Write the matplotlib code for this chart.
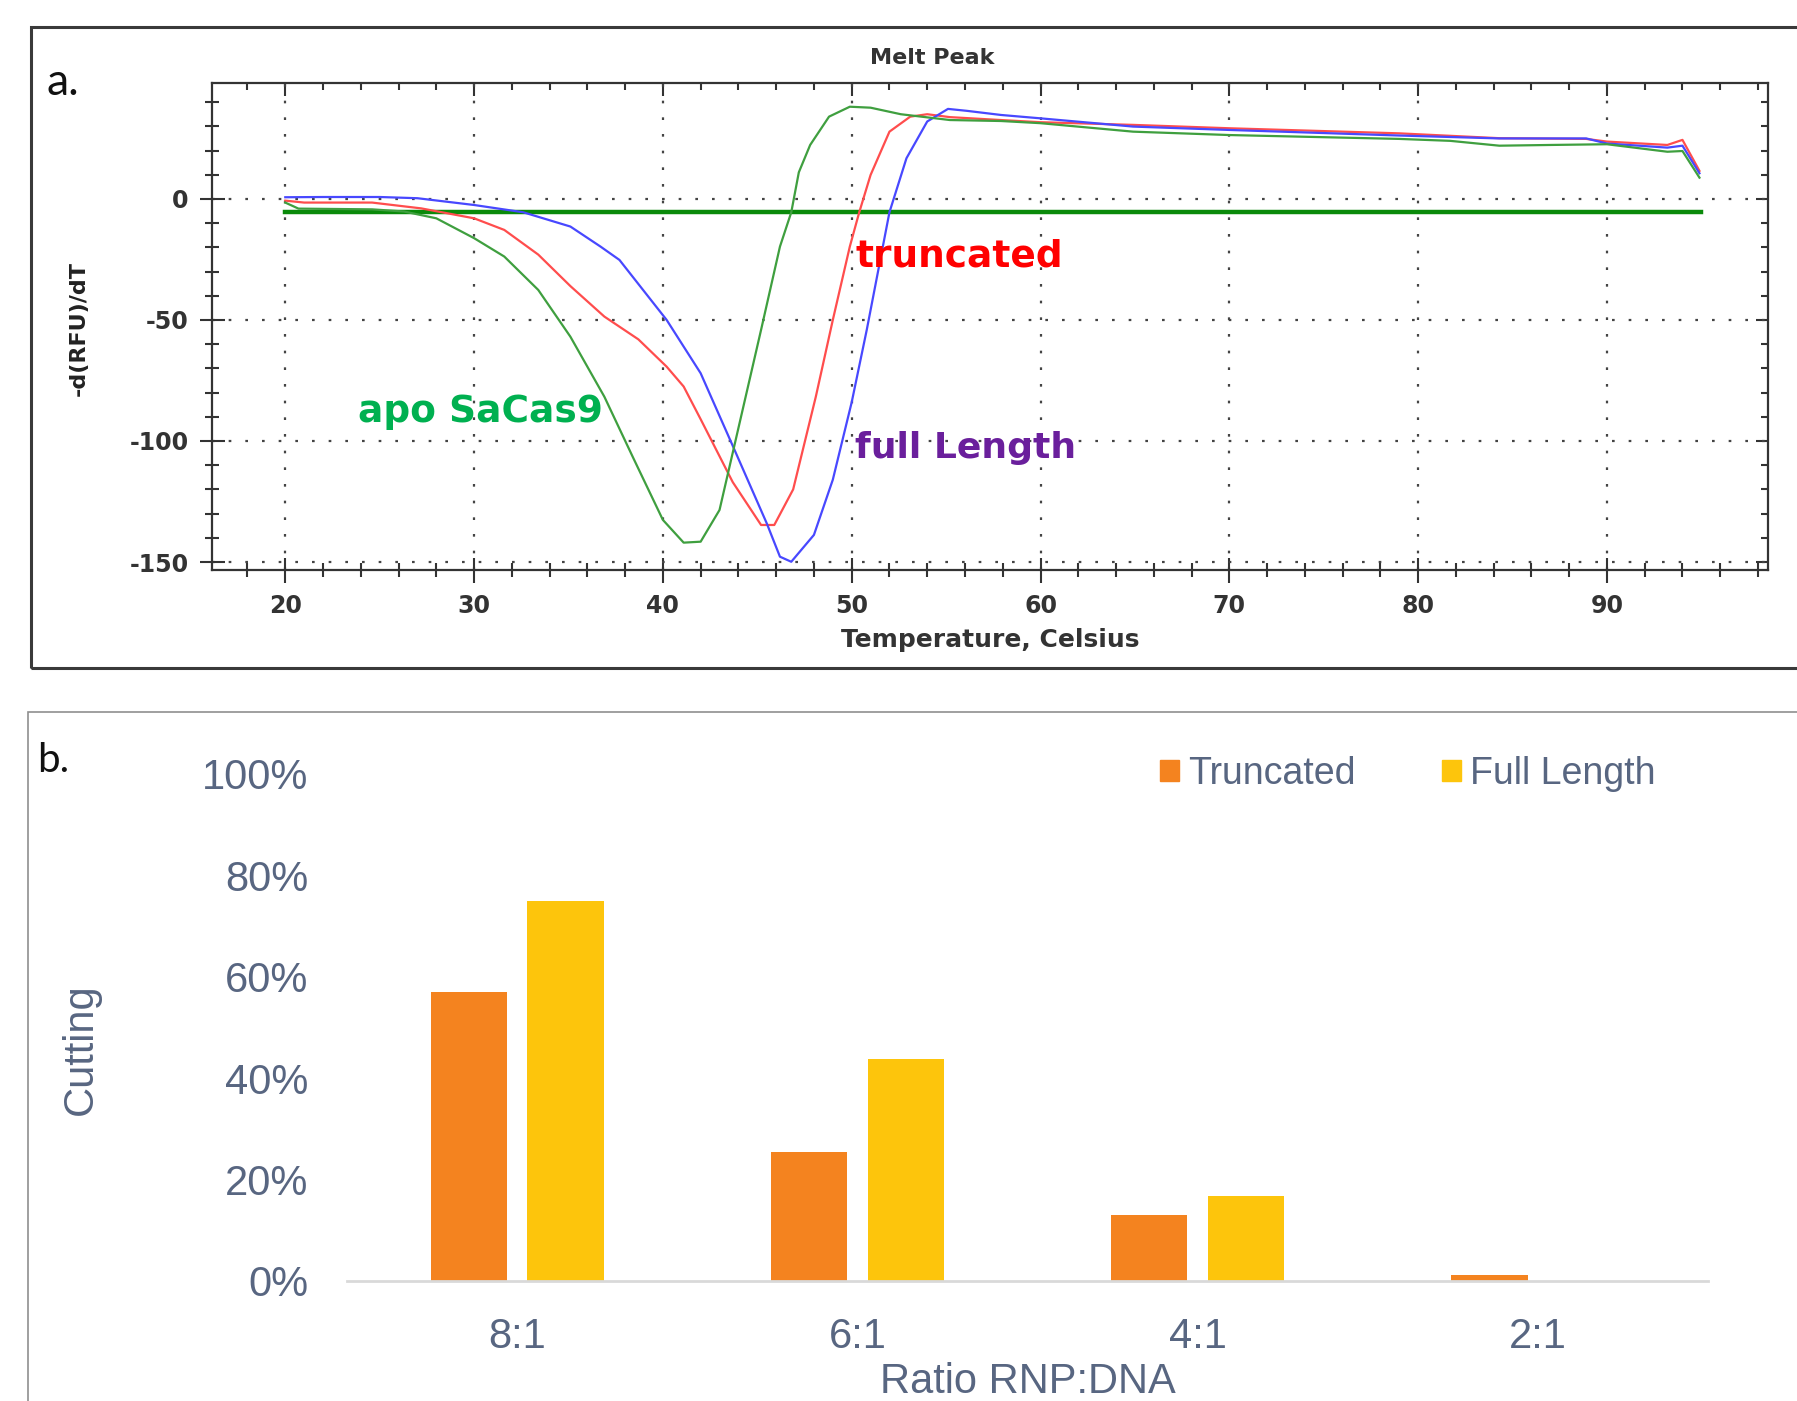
import matplotlib
matplotlib.use("Agg")
import numpy as np
import matplotlib.pyplot as plt
from matplotlib.ticker import MultipleLocator, PercentFormatter
from matplotlib.patches import Rectangle, Patch

plt.rcParams["axes.unicode_minus"] = False

# --- panel a: melt peak curves (temperature, -d(RFU)/dT) ---
temp_full = [20, 22, 25, 27, 30, 32.6, 35.1, 36.7, 37.7, 40.2, 42.0, 43.7, 45.5, 46.2, 46.8,
             48.0, 49.0, 50.0, 50.8, 52.0, 52.9, 54.0, 55.1, 56.1, 57.9, 60, 64.9, 70, 79,
             84.3, 88.9, 90, 93.2, 94.0, 94.9]
val_full = [0.7, 0.8, 0.8, 0.3, -2.5, -5.5, -11.4, -19.7, -25.2, -50, -72, -102, -134, -147.8, -149.9,
            -138.8, -116, -84, -54, -5.5, 16.8, 32, 37.2, 36.4, 34.7, 33.3, 29.9, 28.5, 26.2,
            25, 25, 22.9, 21.2, 22, 10.6]

temp_trunc = [20, 21, 24.6, 27.2, 30, 31.6, 33.4, 35.1, 36.9, 38.7, 40.2, 41.1, 42.0, 43.7, 45.2,
              45.9, 46.9, 48.1, 49.0, 49.9, 50.4, 51.0, 52.0, 53.1, 54.0, 55.2, 57.9, 60, 64.9,
              70, 79, 84.3, 88.9, 90, 93.2, 94.0, 94.9]
val_trunc = [-0.7, -1.5, -1.5, -3.9, -8, -12.8, -23, -36, -48.6, -58, -69.3, -77.5, -91, -117, -134.7,
             -134.7, -120, -81.7, -50, -19.7, -5.5, 9.9, 27.8, 34, 35, 33.8, 32.6, 31.7, 30.6,
             29.2, 27.1, 25.1, 24.8, 23.7, 22.3, 24.4, 11.6]

temp_apo = [20, 20.7, 24.6, 26.3, 28, 30, 31.6, 33.4, 35.1, 36.9, 38.4, 40.0, 41.1, 42.0, 43.0,
            44.1, 45.2, 46.2, 46.8, 47.2, 47.8, 48.8, 49.9, 51.0, 52.6, 55.2, 57.9, 60, 64.9,
            70, 79, 81.7, 84.3, 87, 90, 93.2, 94.0, 94.9]
val_apo = [-1.5, -4, -4.3, -5.2, -8, -16.2, -23.8, -37.6, -56.9, -81.7, -106.5, -132.6, -142, -141.6, -128.5,
           -91.3, -54.1, -19.7, -5.5, 11, 22.3, 34, 38.1, 37.7, 35, 32.6, 32.2, 31.3, 27.8,
           26.4, 24.8, 24, 22, 22.3, 22.6, 19.5, 19.8, 8.8]

threshold_temp = [20, 95]
threshold_val = [-5.5, -5.5]

# --- panel b: cutting vs ratio ---
ratios = ["8:1", "6:1", "4:1", "2:1"]
cut_truncated = [0.57, 0.254, 0.13, 0.012]
cut_full = [0.75, 0.438, 0.167, 0.0]

W, H = 1797, 1401
fig = plt.figure(figsize=(W / 100, H / 100), dpi=100)


def fx(px):
    return px / W


def fy(py):
    return 1 - py / H


# panel frames
fig.patches.append(Rectangle((fx(31), fy(668)), 1.2, fy(27) - fy(668), transform=fig.transFigure,
                             fill=False, edgecolor="#3a3a3a", linewidth=2.2, zorder=0))
fig.patches.append(Rectangle((fx(28), fy(1500)), 1.2, fy(712) - fy(1500), transform=fig.transFigure,
                             fill=False, edgecolor="#8f8f8f", linewidth=1.2, zorder=0))

# ---------------- panel a ----------------
ax = fig.add_axes([fx(212), fy(570), fx(1768) - fx(212), fy(83) - fy(570)])
ax.plot(temp_trunc, val_trunc, color="#ff4d4d", lw=1.6, zorder=3)
ax.plot(temp_full, val_full, color="#4848ff", lw=1.6, zorder=3)
ax.plot(temp_apo, val_apo, color="#3f9f3f", lw=1.6, zorder=3)
ax.plot(threshold_temp, threshold_val, color="#0a8a0a", lw=3.2, zorder=2)

ax.set_xlim(16.12, 98.53)
ax.set_ylim(-153.3, 47.9)
ax.xaxis.set_major_locator(MultipleLocator(10))
ax.xaxis.set_minor_locator(MultipleLocator(2))
ax.yaxis.set_major_locator(MultipleLocator(50))
ax.yaxis.set_minor_locator(MultipleLocator(10))
ax.grid(which="major", color="#444444", linestyle=(0, (1.2, 6.3)), linewidth=1.6)
ax.tick_params(which="major", direction="inout", length=18, width=1.5, color="#333333",
               labelsize=17, labelcolor="#333333", pad=8)
ax.tick_params(which="minor", direction="inout", length=10, width=1.5, color="#333333")
for lab in ax.get_xticklabels() + ax.get_yticklabels():
    lab.set_fontweight("bold")
for s in ax.spines.values():
    s.set_color("#333333")
    s.set_linewidth(1.6)

secx = ax.secondary_xaxis("top")
secx.xaxis.set_major_locator(MultipleLocator(10))
secx.xaxis.set_minor_locator(MultipleLocator(2))
secx.tick_params(which="major", direction="in", length=9, width=1.5, color="#333333", labeltop=False)
secx.tick_params(which="minor", direction="in", length=5, width=1.5, color="#333333")
secx.spines["top"].set_visible(False)
secy = ax.secondary_yaxis("right")
secy.yaxis.set_major_locator(MultipleLocator(50))
secy.yaxis.set_minor_locator(MultipleLocator(10))
secy.tick_params(which="major", direction="in", length=9, width=1.5, color="#333333", labelright=False)
secy.tick_params(which="minor", direction="in", length=5, width=1.5, color="#333333")
secy.spines["right"].set_visible(False)

fig.text(fx(932), fy(58), "Melt Peak", ha="center", va="center", fontsize=16,
         fontweight="bold", color="#333333")
fig.text(fx(990), fy(640), "Temperature, Celsius", ha="center", va="center", fontsize=18,
         fontweight="bold", color="#333333")
fig.text(fx(79), fy(328), "-d(RFU)/dT", ha="center", va="center", rotation=90, fontsize=16,
         fontweight="bold", color="#222222")

ax.text(50.2, -28.1, "truncated", color="#ff0000", fontsize=27, fontweight="bold",
        ha="left", va="baseline", zorder=5)
ax.text(50.2, -107, "full Length", color="#6a1f9c", fontsize=26, fontweight="bold",
        ha="left", va="baseline", zorder=5)
ax.text(23.85, -92.1, "apo SaCas9", color="#00b050", fontsize=27, fontweight="bold",
        ha="left", va="baseline", zorder=5)

fig.text(fx(46), fy(95), "a.", fontsize=32, family="Lato", fontweight="normal",
         color="#111111", ha="left", va="baseline")

# ---------------- panel b ----------------
slate = "#586681"
bx = fig.add_axes([fx(347), fy(1281), fx(1708) - fx(347), fy(774) - fy(1281)])
x = np.arange(len(ratios))
w = 0.224
off = 0.142
bx.bar(x - off, cut_truncated, width=w, color="#f4831f", label="Truncated", zorder=2)
bx.bar(x + off, cut_full, width=w, color="#fdc50c", label="Full Length", zorder=2)
bx.set_xlim(-0.5, 3.5)
bx.set_ylim(0, 1.0)
bx.set_xticks(x)
bx.set_xticklabels(ratios)
bx.yaxis.set_major_locator(MultipleLocator(0.2))
bx.yaxis.set_major_formatter(PercentFormatter(1.0, decimals=0))
for side in ["top", "right", "left"]:
    bx.spines[side].set_visible(False)
bx.spines["bottom"].set_color("#d9d9d9")
bx.spines["bottom"].set_linewidth(2)
bx.tick_params(axis="both", length=0, labelsize=30, labelcolor=slate)
bx.tick_params(axis="y", pad=28)
bx.tick_params(axis="x", pad=26)
for lab in bx.get_xticklabels() + bx.get_yticklabels():
    lab.set_family("Liberation Sans")

handles = [Patch(color="#f4831f"), Patch(color="#fdc50c")]
leg = fig.legend(handles, ["Truncated", "Full Length"], loc="center left",
                 bbox_to_anchor=(fx(1160), fy(774)), bbox_transform=fig.transFigure,
                 ncol=2, frameon=False, handlelength=0.5, handleheight=0.5,
                 handletextpad=0.25, columnspacing=2.3, borderpad=0, borderaxespad=0,
                 prop={"family": "Liberation Sans", "size": 27})
for t in leg.get_texts():
    t.set_color(slate)

fig.text(fx(81), fy(1049), "Cutting", rotation=90, ha="center", va="center", fontsize=30,
         color=slate, family="Liberation Sans")
fig.text(fx(1028), fy(1393), "Ratio RNP:DNA", ha="center", va="baseline", fontsize=30,
         color=slate, family="Liberation Sans")
fig.text(fx(37), fy(772), "b.", fontsize=29, family="Lato", fontweight="normal",
         color="#111111", ha="left", va="baseline")

fig.savefig("out.png", dpi=100, facecolor="white")
